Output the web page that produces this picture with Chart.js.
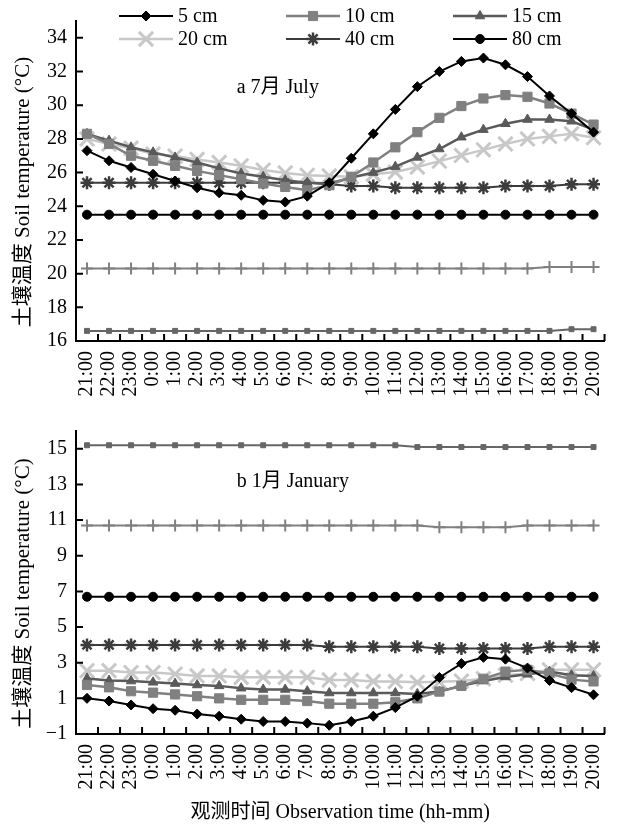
<!DOCTYPE html>
<html>
<head>
<meta charset="utf-8">
<script src="https://cdn.jsdelivr.net/npm/chart.js@4.4.1/dist/chart.umd.min.js"></script>
<style>
  html, body { margin: 0; padding: 0; background: #fff; }
  #wrap { position: relative; width: 628px; height: 826px; }
  #chartA { position: absolute; left: 0; top: 0; }
  #chartB { position: absolute; left: 0; top: 410px; }
</style>
</head>
<body>
<div id="wrap">
  <canvas id="chartA" width="628" height="410"></canvas>
  <canvas id="chartB" width="628" height="416"></canvas>
</div>
<script>
// Observation hours
const hours = ['21:00', '22:00', '23:00', '0:00', '1:00', '2:00', '3:00', '4:00', '5:00', '6:00', '7:00', '8:00',
  '9:00', '10:00', '11:00', '12:00', '13:00', '14:00', '15:00', '16:00', '17:00', '18:00', '19:00', '20:00'];

// a: July
const july5 = [27.3, 26.7, 26.3, 25.9, 25.5, 25.1, 24.8, 24.65, 24.35, 24.25, 24.6, 25.4, 26.85, 28.3, 29.75, 31.1, 32.0, 32.6, 32.8, 32.4, 31.7, 30.55, 29.5, 28.4];
const july10 = [28.3, 27.7, 27.0, 26.7, 26.4, 26.1, 25.85, 25.6, 25.35, 25.15, 24.95, 25.25, 25.75, 26.6, 27.5, 28.4, 29.25, 29.95, 30.4, 30.6, 30.5, 30.1, 29.5, 28.85];
const july15 = [28.3, 27.9, 27.5, 27.2, 26.9, 26.6, 26.25, 25.95, 25.75, 25.55, 25.4, 25.35, 25.7, 26.0, 26.35, 26.9, 27.4, 28.1, 28.55, 28.9, 29.15, 29.15, 29.05, 28.55];
const july20 = [28.0, 27.7, 27.45, 27.1, 26.98, 26.78, 26.6, 26.4, 26.15, 25.98, 25.84, 25.8, 25.75, 25.9, 26.03, 26.33, 26.68, 27.02, 27.35, 27.7, 28.0, 28.15, 28.3, 28.07];
const july40 = [25.4, 25.4, 25.4, 25.4, 25.4, 25.4, 25.4, 25.4, 25.4, 25.4, 25.4, 25.3, 25.2, 25.2, 25.1, 25.1, 25.1, 25.1, 25.1, 25.2, 25.2, 25.2, 25.3, 25.3];
const july80 = [23.5, 23.5, 23.5, 23.5, 23.5, 23.5, 23.5, 23.5, 23.5, 23.5, 23.5, 23.5, 23.5, 23.5, 23.5, 23.5, 23.5, 23.5, 23.5, 23.5, 23.5, 23.5, 23.5, 23.5];
const julyPlus = [20.3, 20.3, 20.3, 20.3, 20.3, 20.3, 20.3, 20.3, 20.3, 20.3, 20.3, 20.3, 20.3, 20.3, 20.3, 20.3, 20.3, 20.3, 20.3, 20.3, 20.3, 20.4, 20.4, 20.4];
const julyDash = [16.6, 16.6, 16.6, 16.6, 16.6, 16.6, 16.6, 16.6, 16.6, 16.6, 16.6, 16.6, 16.6, 16.6, 16.6, 16.6, 16.6, 16.6, 16.6, 16.6, 16.6, 16.6, 16.7, 16.7];

// b: January
const jan5 = [1.0, 0.85, 0.63, 0.42, 0.33, 0.12, 0.0, -0.17, -0.3, -0.3, -0.39, -0.51, -0.3, 0.0, 0.48, 1.12, 2.17, 2.95, 3.3, 3.2, 2.7, 2.0, 1.6, 1.2];
const jan10 = [1.75, 1.62, 1.4, 1.32, 1.22, 1.12, 1.0, 0.92, 0.92, 0.92, 0.85, 0.7, 0.7, 0.7, 0.78, 1.0, 1.38, 1.7, 2.1, 2.5, 2.6, 2.4, 2.05, 1.95];
const jan15 = [2.12, 2.0, 1.97, 1.9, 1.83, 1.75, 1.7, 1.57, 1.5, 1.5, 1.4, 1.3, 1.3, 1.3, 1.3, 1.25, 1.38, 1.7, 1.97, 2.2, 2.35, 2.5, 2.3, 2.25];
const jan20 = [2.55, 2.55, 2.45, 2.45, 2.36, 2.26, 2.26, 2.18, 2.18, 2.18, 2.18, 2.03, 2.03, 1.95, 1.95, 1.9, 1.93, 1.97, 2.1, 2.3, 2.4, 2.6, 2.6, 2.6];
const jan40 = [4.0, 4.0, 4.0, 4.0, 4.0, 4.0, 4.0, 4.0, 4.0, 4.0, 4.0, 3.9, 3.9, 3.9, 3.9, 3.9, 3.8, 3.8, 3.8, 3.8, 3.8, 3.9, 3.9, 3.9];
const jan80 = [6.7, 6.7, 6.7, 6.7, 6.7, 6.7, 6.7, 6.7, 6.7, 6.7, 6.7, 6.7, 6.7, 6.7, 6.7, 6.7, 6.7, 6.7, 6.7, 6.7, 6.7, 6.7, 6.7, 6.7];
const janPlus = [10.7, 10.7, 10.7, 10.7, 10.7, 10.7, 10.7, 10.7, 10.7, 10.7, 10.7, 10.7, 10.7, 10.7, 10.7, 10.7, 10.6, 10.6, 10.6, 10.6, 10.7, 10.7, 10.7, 10.7];
const janDash = [15.2, 15.2, 15.2, 15.2, 15.2, 15.2, 15.2, 15.2, 15.2, 15.2, 15.2, 15.2, 15.2, 15.2, 15.2, 15.1, 15.1, 15.1, 15.1, 15.1, 15.1, 15.1, 15.1, 15.1];

// y tick labels
const yTicksJuly = [16, 18, 20, 22, 24, 26, 28, 30, 32, 34];
const yTicksJan = [-1, 1, 3, 5, 7, 9, 11, 13, 15];

const FONT = '"Liberation Serif", "Noto Sans CJK SC", serif';
Chart.defaults.font.family = FONT;
Chart.defaults.font.size = 20;
Chart.defaults.color = '#000';

// series look, same order as the value lists
const looks = [
  { label: '5 cm', color: '#000000', point: 'rectRot', radius: 5, width: 2, pw: 1, legend: true },
  { label: '10 cm', color: '#808080', point: 'rect', radius: 6.5, width: 2.5, pw: 1, legend: true },
  { label: '15 cm', color: '#5a5a5a', point: 'triangle', radius: 5.5, width: 2.5, pw: 1, legend: true },
  { label: '20 cm', color: '#c8c8c8', point: 'crossRot', radius: 10, width: 2.5, pw: 3, legend: true },
  { label: '40 cm', color: '#3c3c3c', point: 'star', radius: 6.5, width: 2, pw: 2.5, legend: true },
  { label: '80 cm', color: '#000000', point: 'circle', radius: 4.5, width: 2, pw: 1, legend: true },
  { label: '', color: '#808080', point: 'cross', radius: 6, width: 2, pw: 2, legend: false },
  { label: '', color: '#666666', point: 'rect', radius: 3.5, width: 2, pw: 1, legend: false }
];

function makeDatasets(values) {
  return looks.map((s, k) => ({
    label: s.label,
    data: values[k],
    borderColor: s.color,
    backgroundColor: s.color,
    borderWidth: s.width,
    pointStyle: s.point,
    pointRadius: s.radius,
    pointBorderWidth: s.pw,
    pointBackgroundColor: s.color,
    pointBorderColor: s.color,
    tension: 0,
    inLegend: s.legend
  }));
}

// legend drawn over the top of panel a
const topLegend = {
  id: 'topLegend',
  afterDraw(chart, args, o) {
    if (!o.show) return;
    const ctx = chart.ctx;
    ctx.save();
    ctx.font = '20px ' + FONT;
    ctx.textBaseline = 'middle';
    ctx.textAlign = 'left';
    let n = 0;
    chart.data.datasets.forEach(ds => {
      if (!ds.inLegend) return;
      const x0 = o.x0 + (n % 3) * o.colGap;
      const y = o.y0 + Math.floor(n / 3) * o.rowGap;
      n++;
      ctx.strokeStyle = ds.borderColor;
      ctx.fillStyle = ds.borderColor;
      ctx.lineWidth = ds.borderWidth;
      ctx.beginPath();
      ctx.moveTo(x0, y);
      ctx.lineTo(x0 + o.lineLen, y);
      ctx.stroke();
      ctx.lineWidth = ds.pointBorderWidth;
      Chart.helpers.drawPoint(ctx, { pointStyle: ds.pointStyle, radius: ds.pointRadius, borderWidth: ds.pointBorderWidth, rotation: 0 }, x0 + o.lineLen / 2, y);
      ctx.fillStyle = '#000';
      ctx.fillText(ds.label, x0 + o.lineLen + 5, y + 1);
    });
    ctx.restore();
  }
};

// panel caption and rotated y title
const caption = {
  id: 'caption',
  afterDraw(chart, args, o) {
    const { ctx, chartArea: ca } = chart;
    ctx.save();
    ctx.font = '20px ' + FONT;
    ctx.fillStyle = '#000';
    ctx.textAlign = 'left';
    ctx.textBaseline = 'middle';
    ctx.fillText(o.text, ca.left + o.fx * (ca.right - ca.left), ca.top + o.fy * (ca.bottom - ca.top));
    ctx.font = o.titleSize + 'px ' + FONT;
    ctx.textAlign = 'center';
    ctx.translate(o.titleX, (ca.top + ca.bottom) / 2 + o.titleShift);
    ctx.rotate(-Math.PI / 2);
    ctx.fillText(o.yTitle, 0, 0);
    ctx.restore();
  }
};

// tick marks pointing into the plot
const innerTicks = {
  id: 'innerTicks',
  afterDraw(chart) {
    const { ctx, chartArea: ca, scales: { x, y } } = chart;
    ctx.save();
    ctx.strokeStyle = '#000';
    ctx.lineWidth = 2;
    ctx.beginPath();
    y.ticks.forEach(t => {
      const py = y.getPixelForValue(t.value);
      ctx.moveTo(ca.left, py);
      ctx.lineTo(ca.left + 7, py);
    });
    const step = x.getPixelForValue(1) - x.getPixelForValue(0);
    for (let i = 1; i <= x.ticks.length; i++) {
      const px = x.getPixelForValue(i) - step / 2;
      ctx.moveTo(px, ca.bottom);
      ctx.lineTo(px, ca.bottom - 7);
    }
    ctx.stroke();
    ctx.restore();
  }
};

function buildChart(id, values, yMin, yMax, yTicks, opts) {
  return new Chart(document.getElementById(id), {
    type: 'line',
    data: { labels: hours, datasets: makeDatasets(values) },
    plugins: [topLegend, caption, innerTicks],
    options: {
      responsive: false,
      animation: false,
      layout: { padding: { top: opts.padTop, right: 22, left: 0, bottom: 0 } },
      plugins: {
        legend: { display: false },
        tooltip: { enabled: false },
        topLegend: { show: opts.legend, x0: 119, y0: 16, colGap: 167, rowGap: 23, lineLen: 54 },
        caption: {
          text: opts.caption, fx: 0.304, fy: opts.capY,
          yTitle: '土壤温度 Soil temperature (°C)', titleSize: 21, titleX: 23, titleShift: 11
        }
      },
      scales: {
        x: {
          type: 'category',
          offset: true,
          grid: { display: false, drawTicks: false },
          border: { display: true, color: '#000', width: 2 },
          ticks: { autoSkip: false, minRotation: 90, maxRotation: 90, padding: 10, color: '#000', font: { size: 20 } },
          title: { display: !!opts.xTitle, text: opts.xTitle || '', color: '#000', font: { size: 20 }, padding: { top: 0, bottom: 1 } },
          afterFit: s => { s.height = opts.xHeight; }
        },
        y: {
          min: yMin,
          max: yMax,
          grid: { display: false, drawTicks: false },
          border: { display: true, color: '#000', width: 2 },
          afterBuildTicks: s => { s.ticks = yTicks.map(v => ({ value: v })); },
          ticks: { padding: 9, color: '#000', font: { size: 20 }, callback: v => String(v).replace('-', '\u2212') },
          afterFit: s => { s.width = 76; }
        }
      }
    }
  });
}

buildChart('chartA', [july5, july10, july15, july20, july40, july80, julyPlus, julyDash], 16, 35, yTicksJuly,
  { padTop: 20, legend: true, caption: 'a 7月 July', capY: 0.21, xHeight: 69 });

buildChart('chartB', [jan5, jan10, jan15, jan20, jan40, jan80, janPlus, janDash], -1, 16, yTicksJan,
  { padTop: 11, legend: false, caption: 'b 1月 January', capY: 0.166, xHeight: 92, xTitle: '观测时间 Observation time (hh-mm)' });
</script>
</body>
</html>
